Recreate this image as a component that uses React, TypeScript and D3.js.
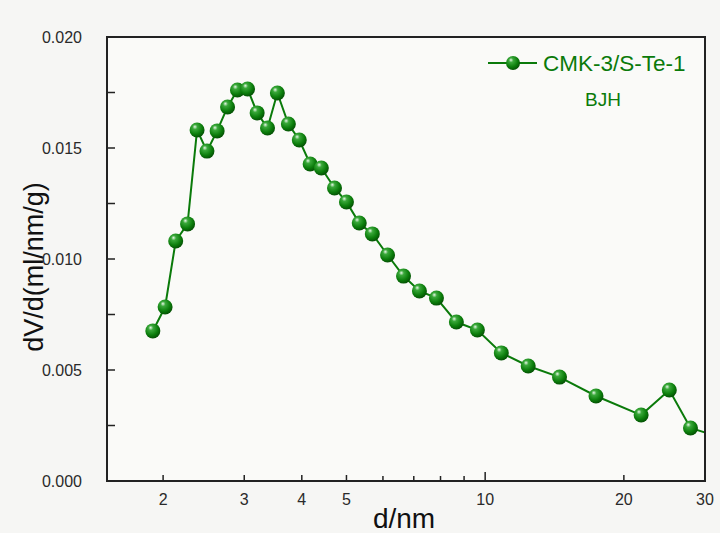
import React, { useRef, useEffect } from "react";
import * as d3 from "d3";

// pore diameter (nm) and dV/d (ml/nm/g)
const diameters = [
  1.9, 2.02, 2.13, 2.26, 2.37, 2.49, 2.62, 2.76, 2.9, 3.05, 3.2, 3.37, 3.54, 3.74,
  3.95, 4.17, 4.41, 4.71, 5.0, 5.33, 5.69, 6.14, 6.65, 7.2, 7.84, 8.66, 9.62,
  10.84, 12.4, 14.5, 17.4, 21.8, 25.1, 27.9, 31.5,
];
const dvd = [
  0.00676, 0.00784, 0.01081, 0.01158, 0.01581, 0.01486, 0.01577, 0.01685, 0.01761,
  0.01766, 0.01658, 0.0159, 0.01748, 0.01608, 0.01536, 0.01428, 0.0141, 0.0132,
  0.01257, 0.01162, 0.01113, 0.01018, 0.00923, 0.00856, 0.00824, 0.00716, 0.0068,
  0.00577, 0.00518, 0.00468, 0.00383, 0.00297, 0.0041, 0.00239, 0.00205,
];
const xTickLabels = [2, 3, 4, 5, 10, 20, 30];
const xMinorTicks = [6, 7, 8, 9];
const yTicks = [0, 0.005, 0.01, 0.015, 0.02];
const yMinorTicks = [0.0025, 0.0075, 0.0125, 0.0175];
const seriesName = "CMK-3/S-Te-1";
const methodLabel = "BJH";

const W = 720;
const H = 533;
const margin = { top: 37, right: 15, bottom: 52, left: 107 };
const green = "#0a7a0a";

export default function App() {
  const ref = useRef<SVGSVGElement>(null);

  useEffect(() => {
    const svg = d3.select(ref.current);
    svg.selectAll("*").remove();

    const iw = W - margin.left - margin.right;
    const ih = H - margin.top - margin.bottom;

    const x = d3.scaleLog().domain([1.511, 30]).range([0, iw]);
    const y = d3.scaleLinear().domain([0, 0.02]).range([ih, 0]);

    const defs = svg.append("defs");
    const grad = defs
      .append("radialGradient")
      .attr("id", "ball")
      .attr("cx", "40%")
      .attr("cy", "35%")
      .attr("r", "65%")
      .attr("fx", "35%")
      .attr("fy", "28%");
    grad.append("stop").attr("offset", "0%").attr("stop-color", "#e8f7e8");
    grad.append("stop").attr("offset", "25%").attr("stop-color", "#3aa83a");
    grad.append("stop").attr("offset", "70%").attr("stop-color", "#0b7d0b");
    grad.append("stop").attr("offset", "100%").attr("stop-color", "#055205");
    defs
      .append("clipPath")
      .attr("id", "plotclip")
      .append("rect")
      .attr("width", iw)
      .attr("height", ih);

    svg
      .append("rect")
      .attr("width", W)
      .attr("height", H)
      .attr("fill", "#f6f6f4");

    const g = svg
      .append("g")
      .attr("transform", `translate(${margin.left},${margin.top})`);

    g.append("rect")
      .attr("width", iw)
      .attr("height", ih)
      .attr("fill", "#fafaf8");

    const pts = diameters.map((d, i) => [d, dvd[i]] as [number, number]);
    const line = d3
      .line<[number, number]>()
      .x((d) => x(d[0]))
      .y((d) => y(d[1]));

    const plot = g.append("g").attr("clip-path", "url(#plotclip)");
    plot
      .append("path")
      .datum(pts)
      .attr("d", line)
      .attr("fill", "none")
      .attr("stroke", green)
      .attr("stroke-width", 2);

    plot
      .selectAll("circle")
      .data(pts.filter((p) => p[0] <= 30))
      .enter()
      .append("circle")
      .attr("cx", (d) => x(d[0]))
      .attr("cy", (d) => y(d[1]))
      .attr("r", 7.5)
      .attr("fill", "url(#ball)");

    // axes frame
    g.append("rect")
      .attr("width", iw)
      .attr("height", ih)
      .attr("fill", "none")
      .attr("stroke", "#222")
      .attr("stroke-width", 2);

    const tickFont = "Liberation Sans, Arial, sans-serif";

    // y ticks (inward)
    g.selectAll(".ytick")
      .data(yTicks.concat(yMinorTicks))
      .enter()
      .append("line")
      .attr("x1", 0)
      .attr("x2", 8)
      .attr("y1", (d) => y(d))
      .attr("y2", (d) => y(d))
      .attr("stroke", "#222")
      .attr("stroke-width", 1.5);
    g.selectAll(".ylab")
      .data(yTicks)
      .enter()
      .append("text")
      .attr("x", -25)
      .attr("y", (d) => y(d))
      .attr("dy", "0.35em")
      .attr("text-anchor", "end")
      .attr("font-family", tickFont)
      .attr("font-size", 16)
      .attr("fill", "#2a2a2a")
      .text((d) => d3.format(".3f")(d));

    // x ticks (inward)
    g.selectAll(".xtick")
      .data(xTickLabels)
      .enter()
      .append("line")
      .attr("x1", (d) => x(d))
      .attr("x2", (d) => x(d))
      .attr("y1", ih)
      .attr("y2", (d) => (d === 10 ? ih - 9 : ih - 6))
      .attr("stroke", "#222")
      .attr("stroke-width", 1.5);
    g.selectAll(".xminor")
      .data(xMinorTicks)
      .enter()
      .append("line")
      .attr("x1", (d) => x(d))
      .attr("x2", (d) => x(d))
      .attr("y1", ih)
      .attr("y2", ih - 5)
      .attr("stroke", "#222")
      .attr("stroke-width", 1.5);
    g.selectAll(".xlab")
      .data(xTickLabels)
      .enter()
      .append("text")
      .attr("x", (d) => x(d))
      .attr("y", ih + 24)
      .attr("text-anchor", "middle")
      .attr("font-family", tickFont)
      .attr("font-size", 16)
      .attr("fill", "#2a2a2a")
      .text((d) => String(d));

    // axis titles
    svg
      .append("text")
      .attr("x", 404)
      .attr("y", 528)
      .attr("text-anchor", "middle")
      .attr("font-family", tickFont)
      .attr("font-size", 28)
      .attr("fill", "#111")
      .text("d/nm");
    svg
      .append("text")
      .attr("transform", "translate(43,267) rotate(-90)")
      .attr("text-anchor", "middle")
      .attr("font-family", tickFont)
      .attr("font-size", 27)
      .attr("fill", "#111")
      .text("dV/d(ml/nm/g)");

    // legend
    const lg = svg.append("g");
    lg.append("line")
      .attr("x1", 488)
      .attr("x2", 537)
      .attr("y1", 63)
      .attr("y2", 63)
      .attr("stroke", green)
      .attr("stroke-width", 2);
    lg.append("circle")
      .attr("cx", 513)
      .attr("cy", 63)
      .attr("r", 7)
      .attr("fill", "url(#ball)");
    lg.append("text")
      .attr("x", 543)
      .attr("y", 71)
      .attr("font-family", tickFont)
      .attr("font-size", 22.5)
      .attr("fill", green)
      .text(seriesName);
    lg.append("text")
      .attr("x", 585)
      .attr("y", 106)
      .attr("font-family", tickFont)
      .attr("font-size", 19)
      .attr("fill", green)
      .text(methodLabel);
  }, []);

  return (
    <svg
      ref={ref}
      width={W}
      height={H}
      style={{ position: "absolute", left: 0, top: 0, display: "block" }}
    />
  );
}
